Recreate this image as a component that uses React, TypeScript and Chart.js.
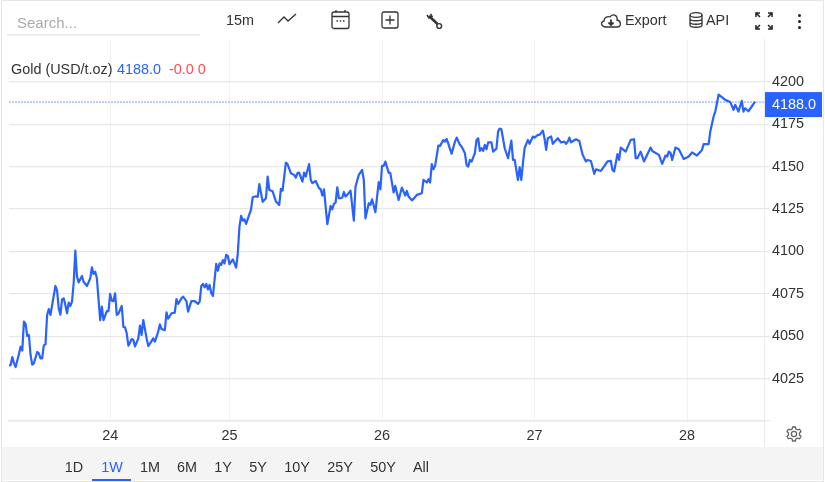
import { useEffect, useRef } from "react";
import { Chart, registerables } from "chart.js";

Chart.register(...registerables);

const FONT = '"Liberation Sans", Arial, sans-serif';
const BLUE = "#2962ff";

// 15 minute bars counted from the left edge of the chart (weekend gaps closed)
const bars = [
  0, 1, 2, 3, 4, 6, 7, 8, 9, 10, 11, 12, 13, 14, 15, 17, 18, 19, 20, 21, 22, 23, 24, 25, 28, 29, 30, 31, 32, 33, 34, 35, 36, 37, 38, 39, 40, 41, 42, 44, 45, 47, 49, 50, 51, 52, 53, 55, 56, 57, 59, 60, 61, 62, 63, 64, 65, 66, 68, 69, 70, 71, 72, 73, 74, 75, 76, 78, 79, 80, 81, 83, 84, 85, 87, 88, 90, 91, 92, 94, 95, 96, 98, 100, 101, 102, 104, 105, 107, 108, 110, 112, 114, 115, 116, 117, 118, 119, 120, 121, 122, 123, 125, 126, 127, 128, 129, 130, 131, 132, 133, 135, 137, 138,
  139, 140, 141, 142, 143, 146, 147, 149, 150, 151, 153, 155, 156, 157, 159, 161, 163, 164, 165, 167, 168, 170, 172, 173, 174, 175, 177, 178, 179, 181, 182, 183, 185, 187, 188, 189, 190, 192, 194, 195, 196, 197, 198, 199, 200, 201, 202, 203, 204, 206, 208, 209, 211, 213, 214, 215, 217, 218, 219, 221, 223, 224, 225, 226, 227, 229, 230, 232, 233, 235, 237, 239, 240, 241, 243, 244, 246, 249,
  250, 252, 253, 254, 255, 256, 257, 259, 260, 262, 263, 264, 267, 269, 270, 272, 273, 275, 276, 277, 278, 279, 281, 282, 283, 284, 285, 286, 287, 288, 289, 291, 292, 294, 295, 296, 297, 299, 301, 303, 304, 305, 307, 308, 309, 310, 311, 313, 314, 316, 317, 319, 320, 322, 323, 324, 325, 327, 328, 331, 333, 335, 336, 337, 338, 339, 342, 344, 346, 348, 349, 351, 353, 354, 357, 360, 361, 363, 364, 365, 367, 368, 369, 372, 375, 377, 378, 379, 381, 383, 387, 388, 392, 394, 396, 397, 398, 399, 400, 402, 404, 407, 410, 412, 415, 418, 419, 422, 423, 425, 426, 427, 428, 430, 432, 435, 437, 438, 440, 442, 443, 444, 446, 448, 450,
];

const prices = [
  4032.6, 4033.0, 4037.7, 4034.0, 4031.8, 4039.5, 4043.8, 4041.5, 4058.6, 4057.2, 4050.1, 4050.7, 4038.9, 4033.2, 4034.0, 4040.7, 4039.9, 4036.9, 4036.9, 4044.6, 4045.2, 4062.5, 4066.0, 4062.5, 4079.6, 4076.8, 4066.4, 4062.7, 4071.7, 4072.3, 4068.4, 4063.5, 4069.8, 4067.8, 4070.4, 4081.2, 4100.4, 4085.1, 4081.7, 4085.5, 4082.1, 4079.6, 4084.1, 4090.6, 4086.7, 4088.0, 4084.1, 4059.5, 4067.4, 4059.5, 4064.8, 4064.8, 4074.9, 4070.9, 4070.7, 4075.3, 4062.5, 4063.3, 4067.8, 4055.4, 4055.2, 4051.7, 4044.4, 4046.2, 4048.3, 4047.8, 4044.0, 4048.7, 4056.2, 4050.7, 4059.5, 4048.7, 4044.2, 4045.6, 4048.7, 4046.8, 4052.7, 4057.0, 4054.2, 4053.6, 4064.1, 4060.3, 4063.5, 4063.9, 4071.9, 4069.0, 4072.3, 4073.3, 4070.7, 4064.5, 4070.7, 4070.7, 4069.0, 4070.4, 4079.6, 4080.8, 4078.8, 4080.8, 4077.6, 4080.2, 4075.3, 4073.7, 4092.6, 4088.6, 4092.9, 4092.0, 4094.9, 4092.9, 4097.9, 4097.3, 4092.4, 4095.3, 4090.4, 4098.8,
  4114.6, 4120.9, 4118.1, 4118.9, 4116.2, 4124.8, 4131.9, 4132.5, 4132.1, 4139.6, 4129.2, 4131.3, 4144.1, 4136.2, 4135.4, 4129.4, 4127.4, 4136.8, 4135.8, 4152.3, 4151.4, 4146.1, 4145.1, 4143.5, 4146.1, 4146.4, 4141.1, 4146.4, 4144.1, 4151.4, 4142.1, 4140.2, 4141.5, 4137.2, 4136.6, 4132.9, 4136.6, 4116.0, 4126.8, 4124.8, 4128.0, 4128.8, 4137.8, 4131.3, 4131.3, 4131.7, 4135.0, 4132.3, 4133.3, 4135.8, 4118.1, 4138.2, 4145.1, 4148.0, 4142.1, 4119.5, 4128.4, 4127.4, 4130.7, 4123.1, 4140.8, 4136.6, 4150.4, 4150.4, 4152.9, 4146.4, 4146.1, 4134.7, 4138.6, 4130.3, 4137.6, 4132.9, 4135.6, 4132.3, 4130.1, 4130.9, 4133.3, 4134.3,
  4142.1, 4140.6, 4142.5, 4140.6, 4151.4, 4148.4, 4150.4, 4162.4, 4162.2, 4165.7, 4164.7, 4166.3, 4157.5, 4164.7, 4167.1, 4162.8, 4161.8, 4157.9, 4150.8, 4150.0, 4153.9, 4152.9, 4157.9, 4165.7, 4166.7, 4159.2, 4160.8, 4159.2, 4162.8, 4160.2, 4164.2, 4164.2, 4158.8, 4160.6, 4170.6, 4172.4, 4172.0, 4160.8, 4154.9, 4165.3, 4153.9, 4153.9, 4142.1, 4149.6, 4142.1, 4152.0, 4160.8, 4165.7, 4163.4, 4167.7, 4167.1, 4168.7, 4168.7, 4171.2, 4166.7, 4159.8, 4166.7, 4167.7, 4163.4, 4166.7, 4164.2, 4164.7, 4163.4, 4164.7, 4167.1, 4164.3, 4166.1, 4165.1, 4156.9, 4153.0, 4153.9, 4153.3, 4145.7, 4148.4, 4147.4, 4151.6, 4153.0, 4153.3, 4148.0, 4147.1, 4157.3, 4153.9, 4161.2, 4158.8, 4165.7, 4166.1, 4154.9, 4154.9, 4158.8, 4153.0, 4161.2, 4159.2, 4156.9, 4151.6, 4156.5, 4155.9, 4158.8, 4158.2, 4153.9, 4161.2, 4160.2, 4154.5, 4155.9, 4158.3, 4156.5, 4159.8, 4163.2, 4163.2, 4170.6, 4179.5, 4182.4, 4187.3, 4192.4, 4190.9, 4189.3, 4188.1, 4183.4, 4186.4, 4182.4, 4188.7, 4182.4, 4184.4, 4182.6, 4185.4, 4188.3,
];

const lastPrice = 4188;
const dayBars = [61, 133, 225, 317, 409];
const dayLabels = ["24", "25", "26", "27", "28"];
const priceTicks = [4000, 4025, 4050, 4075, 4100, 4125, 4150, 4175, 4200];
const ranges = ["1D", "1W", "1M", "6M", "1Y", "5Y", "10Y", "25Y", "50Y", "All"];
const rangeCenters = [74, 112, 150, 187, 223, 258, 297, 340, 383, 421];

const lastPriceLabel = {
  id: "lastPriceLabel",
  afterDraw(chart: any) {
    const { ctx, scales } = chart;
    const y = scales.y.getPixelForValue(lastPrice) + 2.5;
    ctx.save();
    ctx.fillStyle = BLUE;
    ctx.fillRect(765, y - 12.5, 57, 25);
    ctx.fillStyle = "#fff";
    ctx.font = `14.4px ${FONT}`;
    ctx.textBaseline = "middle";
    ctx.fillText(lastPrice.toFixed(1), 772, y);
    ctx.restore();
  },
};

function Label({ x, y, color = "#333", size = 14.4, center = false, children }: any) {
  return (
    <span
      style={{
        position: "absolute",
        left: x,
        top: y,
        color,
        fontSize: size,
        lineHeight: "18px",
        marginTop: -9,
        whiteSpace: "nowrap",
        transform: center ? "translateX(-50%)" : undefined,
      }}
    >
      {children}
    </span>
  );
}

function Icon({ x, y, w, h, children, color = "#333" }: any) {
  return (
    <svg
      viewBox={`0 0 ${w} ${h}`}
      width={w}
      height={h}
      fill="none"
      stroke={color}
      strokeWidth={1.3}
      style={{ position: "absolute", left: x, top: y }}
    >
      {children}
    </svg>
  );
}

export default function App() {
  const canvasRef = useRef<HTMLCanvasElement | null>(null);

  useEffect(() => {
    if (!canvasRef.current) return;

    const chart = new Chart(canvasRef.current, {
      type: "line",
      data: {
        datasets: [
          {
            data: [
              { x: 0, y: lastPrice },
              { x: 456, y: lastPrice },
            ],
            borderColor: "rgba(41,98,255,0.6)",
            borderWidth: 1,
            borderDash: [2, 1],
            pointRadius: 0,
          },
          {
            data: bars.map((b, i) => ({ x: b, y: prices[i] })),
            borderColor: BLUE,
            borderWidth: 2.2,
            borderJoinStyle: "round",
            pointRadius: 0,
            tension: 0,
          },
        ],
      },
      options: {
        responsive: false,
        animation: false,
        layout: { padding: { left: 9, top: 40, right: 0, bottom: 35 } },
        plugins: { legend: { display: false }, tooltip: { enabled: false } },
        scales: {
          x: {
            type: "linear",
            min: 0,
            max: 456,
            afterBuildTicks: (scale: any) => {
              scale.ticks = dayBars.map((value) => ({ value }));
            },
            afterFit: (scale: any) => {
              scale.height = 26;
            },
            grid: { color: "#eff3f6", lineWidth: 1, drawTicks: false },
            border: { color: "#e8e8e8", width: 1.5 },
            ticks: {
              autoSkip: false,
              maxRotation: 0,
              padding: 6,
              color: "#333",
              font: { family: FONT, size: 14.4 },
              callback: (value: any) => dayLabels[dayBars.indexOf(value)] ?? "",
            },
          },
          y: {
            position: "right",
            min: 4000,
            max: 4224.6,
            afterBuildTicks: (scale: any) => {
              scale.ticks = priceTicks.map((value) => ({ value }));
            },
            afterFit: (scale: any) => {
              scale.width = 60;
            },
            grid: { color: "#e8e8e8", lineWidth: 1.2, tickLength: 5 },
            border: { display: false },
            ticks: {
              autoSkip: false,
              padding: 2,
              color: "#333",
              font: { family: FONT, size: 14.4 },
              callback: (value: any) => (value === 4000 ? "" : String(value)),
            },
          },
        },
      },
      plugins: [lastPriceLabel],
    } as any);

    return () => chart.destroy();
  }, []);

  return (
    <div
      style={{
        position: "fixed",
        left: 0,
        top: 0,
        width: 825,
        height: 482,
        background: "#fff",
        fontFamily: FONT,
        overflow: "hidden",
      }}
    >
      {/* footer band goes under the canvas */}
      <div style={{ position: "absolute", left: 2, top: 447, width: 821, height: 33, background: "#f4f4f4" }} />
      <canvas ref={canvasRef} width={825} height={482} style={{ position: "absolute", left: 0, top: 0 }} />
      <div style={{ position: "absolute", left: 764, top: 39, width: 1, height: 408, background: "#e8ecef" }} />
      <div
        style={{
          position: "absolute",
          left: 1,
          top: 0,
          width: 821,
          height: 480,
          border: "1px solid #e6e6e6",
          pointerEvents: "none",
        }}
      />

      {/* toolbar */}
      <Label x={17} y={23} color="#aaa" size={15}>Search...</Label>
      <div style={{ position: "absolute", left: 7, top: 34, width: 193, height: 1.5, background: "#eee" }} />
      <Label x={226} y={20}>15m</Label>
      <Icon x={277} y={13} w={20} h={12}>
        <path d="M1 10 L7 4 L11 8 L19 1" />
      </Icon>
      <Icon x={331} y={9} w={19} h={21}>
        <rect x="1" y="3" width="17" height="16.5" rx="2" />
        <path d="M1 7.5 H18 M5 1 V3 M14 1 V3" />
        <path d="M5.5 12 H7 M8.8 12 H10.3 M12 12 H13.5" />
      </Icon>
      <Icon x={381} y={11} w={18} h={18}>
        <rect x="1" y="1" width="16" height="16" rx="2" />
        <path d="M9 4.5 V13.5 M4.5 9 H13.5" />
      </Icon>
      <Icon x={426} y={13} w={17} h={17}>
        <path d="M3 3 L11.5 11" strokeWidth={2.6} />
        <path d="M1 2 L3 5 L6 3.5 L4.5 1" strokeWidth={1.6} />
        <circle cx="13.2" cy="13" r="2.4" strokeWidth={1.4} />
      </Icon>
      <Icon x={600} y={13} w={22} h={15}>
        <path d="M6 14 C1 14 0 9 4 8 C4 4 8 3 10 4 C12 0 18 2 17 7 C21 7.5 22 14 17 14 Z" />
        <path d="M11 6.5 V11 M8.5 9.5 L11 12 L13.5 9.5" strokeWidth={1.8} />
      </Icon>
      <Label x={625} y={20}>Export</Label>
      <Icon x={689} y={12} w={14} h={16}>
        <ellipse cx="7" cy="3" rx="6" ry="2.3" />
        <path d="M1 3 V13 C1 16 13 16 13 13 V3 M1 6.5 C1 9.5 13 9.5 13 6.5 M1 10 C1 13 13 13 13 10" />
      </Icon>
      <Label x={706} y={20}>API</Label>
      <Icon x={755} y={12} w={18} h={18} color="#222">
        <path
          d="M1 5 V1 H5 M1 1 L5 5 M13 1 H17 V5 M17 1 L13 5 M1 13 V17 H5 M1 17 L5 13 M13 17 H17 V13 M17 17 L13 13"
          strokeWidth={1.5}
        />
      </Icon>
      {[15, 21, 27].map((top) => (
        <div
          key={top}
          style={{ position: "absolute", left: 797.5, top: top - 1.5, width: 3, height: 3, borderRadius: 2, background: "#222" }}
        />
      ))}

      {/* legend line */}
      <Label x={11} y={69}>Gold (USD/t.oz)</Label>
      <Label x={117} y={69} color={BLUE}>4188.0</Label>
      <Label x={169} y={69} color="#ff4d4d">-0.0 0</Label>

      {/* range buttons */}
      {ranges.map((r, i) => (
        <Label key={r} x={rangeCenters[i]} y={467} center color={r === "1W" ? BLUE : "#333"}>
          {r}
        </Label>
      ))}
      <div style={{ position: "absolute", left: 92, top: 479, width: 39, height: 1.5, background: BLUE }} />

      <Icon x={786} y={426} w={16} h={16} color="#666">
        <circle cx="8" cy="8" r="2.6" />
        <path d="M6.6 1 H9.4 L9.9 3 L11.6 3.9 L13.6 3.2 L15 5.6 L13.5 7 V9 L15 10.4 L13.6 12.8 L11.6 12.1 L9.9 13 L9.4 15 H6.6 L6.1 13 L4.4 12.1 L2.4 12.8 L1 10.4 L2.5 9 V7 L1 5.6 L2.4 3.2 L4.4 3.9 L6.1 3 Z" />
      </Icon>
    </div>
  );
}
